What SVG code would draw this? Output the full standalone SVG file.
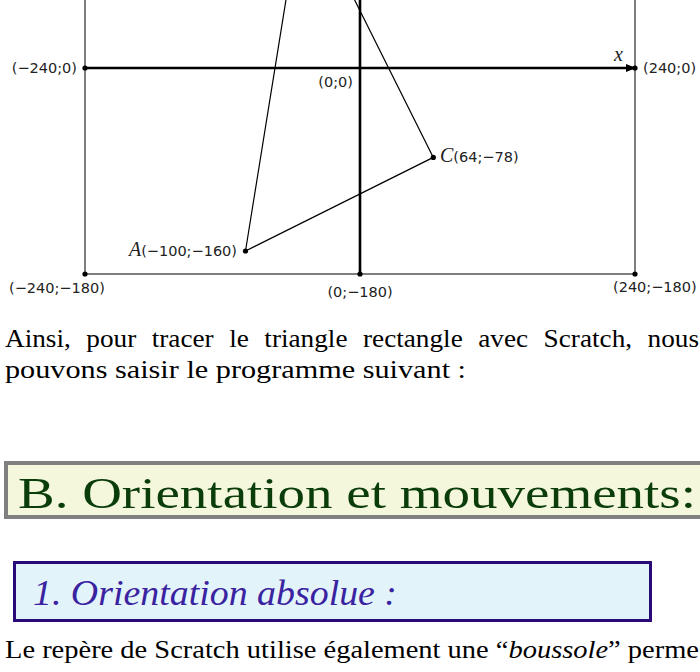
<svg xmlns="http://www.w3.org/2000/svg" width="700" height="672" viewBox="0 0 700 672">
<style>
.frame{stroke:#3a3a3a;stroke-width:1.3;fill:none}
.axis{stroke:#000;stroke-width:2.6;fill:none}
.tri{stroke:#000;stroke-width:1.2;fill:none}
.lbl{font-family:"DejaVu Sans",sans-serif;font-size:14.5px;fill:#222}
.it{font-family:"Liberation Serif",serif;font-style:italic;font-size:20px;fill:#222}
.body{font-family:"Liberation Serif",serif;font-size:25px;fill:#000}
.dot{fill:#000}
</style>
<defs>
<marker id="arr" viewBox="0 0 10 8" refX="10" refY="4" markerWidth="10" markerHeight="8" markerUnits="userSpaceOnUse" orient="auto">
<path d="M0,0 L10,4 L0,8 Z" fill="#000"/>
</marker>
</defs>
<g id="frame">
<rect class="frame" x="85" y="-10" width="550" height="284"/>
</g>
<g id="connectors">
<line class="axis" x1="85" y1="68" x2="636" y2="68" marker-end="url(#arr)"/>
<line class="axis" x1="360" y1="-5" x2="360" y2="274"/>
<polyline class="tri" points="245.5,251 302.7,-103.9 433.3,157.4 245.5,251"/>
</g>
<g id="points">
<circle class="dot" cx="85" cy="68" r="2.6"/>
<circle class="dot" cx="635" cy="68" r="2.6"/>
<circle class="dot" cx="85" cy="274" r="2.6"/>
<circle class="dot" cx="360" cy="274" r="2.6"/>
<circle class="dot" cx="635" cy="274" r="2.6"/>
<circle class="dot" cx="245.5" cy="251" r="2.6"/>
<circle class="dot" cx="433.3" cy="157.4" r="2.6"/>
</g>
<g id="labels">
<text class="lbl" x="77" y="73" text-anchor="end">(−240;0)</text>
<text class="lbl" x="643" y="73">(240;0)</text>
<text class="lbl" x="353" y="87" text-anchor="end">(0;0)</text>
<text class="it" x="614" y="61" font-size="27">x</text>
<text x="237" y="256" text-anchor="end"><tspan class="it">A</tspan><tspan class="lbl">(−100;−160)</tspan></text>
<text x="440" y="162"><tspan class="it">C</tspan><tspan class="lbl">(64;−78)</tspan></text>
<text class="lbl" x="9" y="293">(−240;−180)</text>
<text class="lbl" x="360" y="297" text-anchor="middle">(0;−180)</text>
<text class="lbl" x="613" y="292">(240;−180)</text>
</g>
<g id="paragraph1">
<text class="body" x="5" y="347" textLength="694" lengthAdjust="spacingAndGlyphs" word-spacing="8">Ainsi, pour tracer le triangle rectangle avec Scratch, nous</text>
<text class="body" x="5" y="378" textLength="461" lengthAdjust="spacingAndGlyphs">pouvons saisir le programme suivant :</text>
</g>
<g id="sectionB">
<rect x="6" y="463" width="710" height="54" fill="#f5f7dc" stroke="#808080" stroke-width="4"/>
<text x="18" y="508" font-family="Liberation Serif, serif" font-size="45" fill="#0b3d0b" textLength="678" lengthAdjust="spacingAndGlyphs">B. Orientation et mouvements:</text>
</g>
<g id="subsection1">
<rect x="14.5" y="562.5" width="636" height="58" fill="#e2f3fa" stroke="#2a0a78" stroke-width="3"/>
<text x="33" y="605" font-family="Liberation Serif, serif" font-style="italic" font-size="35" fill="#3a22a0" textLength="364" lengthAdjust="spacingAndGlyphs">1. Orientation absolue :</text>
</g>
<g id="paragraph2">
<text class="body" x="5" y="658" textLength="694" lengthAdjust="spacingAndGlyphs">Le repère de Scratch utilise également une “<tspan font-style="italic">boussole</tspan>” perme</text>
</g>
</svg>
